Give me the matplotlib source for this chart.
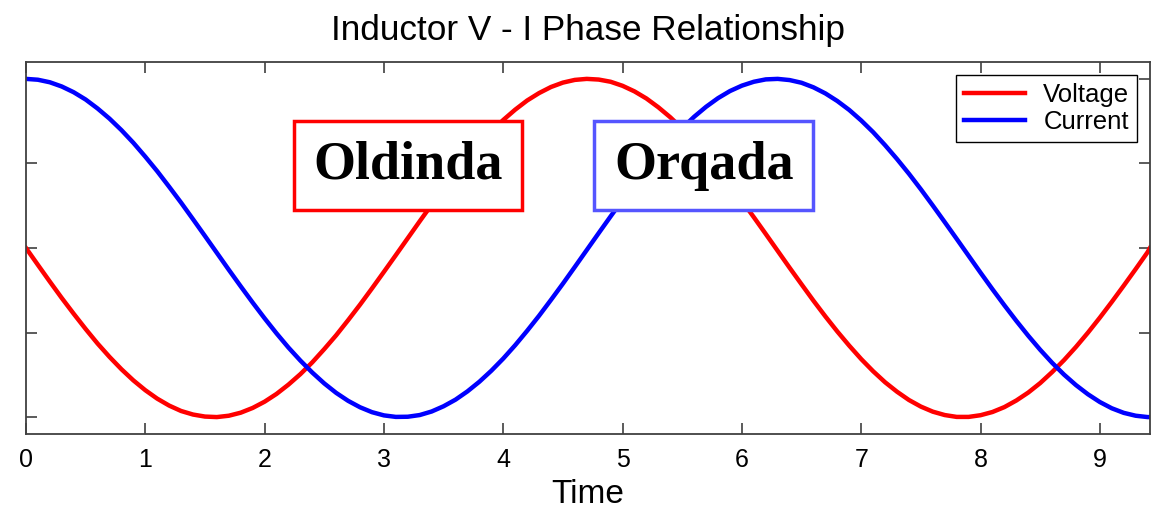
import matplotlib.pyplot as plt

plt.rcParams['font.family'] = ['Liberation Sans', 'DejaVu Sans']

# Values
time = [0.0, 0.1, 0.2, 0.3, 0.4, 0.5, 0.6, 0.7, 0.8, 0.9,
        1.0, 1.1, 1.2, 1.3, 1.4, 1.5, 1.6, 1.7, 1.8, 1.9,
        2.0, 2.1, 2.2, 2.3, 2.4, 2.5, 2.6, 2.7, 2.8, 2.9,
        3.0, 3.1, 3.2, 3.3, 3.4, 3.5, 3.6, 3.7, 3.8, 3.9,
        4.0, 4.1, 4.2, 4.3, 4.4, 4.5, 4.6, 4.7, 4.8, 4.9,
        5.0, 5.1, 5.2, 5.3, 5.4, 5.5, 5.6, 5.7, 5.8, 5.9,
        6.0, 6.1, 6.2, 6.3, 6.4, 6.5, 6.6, 6.7, 6.8, 6.9,
        7.0, 7.1, 7.2, 7.3, 7.4, 7.5, 7.6, 7.7, 7.8, 7.9,
        8.0, 8.1, 8.2, 8.3, 8.4, 8.5, 8.6, 8.7, 8.8, 8.9,
        9.0, 9.1, 9.2, 9.3, 9.4, 9.42]
voltage = [0.0, -0.1, -0.199, -0.296, -0.389, -0.479, -0.565, -0.644, -0.717, -0.783,
           -0.841, -0.891, -0.932, -0.964, -0.985, -0.997, -1.0, -0.992, -0.974, -0.946,
           -0.909, -0.863, -0.808, -0.746, -0.676, -0.598, -0.516, -0.427, -0.335, -0.239,
           -0.141, -0.042, 0.058, 0.158, 0.256, 0.351, 0.443, 0.53, 0.612, 0.688,
           0.757, 0.818, 0.872, 0.916, 0.952, 0.978, 0.994, 1.0, 0.996, 0.983,
           0.959, 0.926, 0.884, 0.832, 0.773, 0.706, 0.631, 0.551, 0.465, 0.374,
           0.279, 0.182, 0.083, -0.017, -0.117, -0.215, -0.312, -0.405, -0.494, -0.578,
           -0.657, -0.729, -0.794, -0.85, -0.899, -0.938, -0.968, -0.988, -0.999, -0.999,
           -0.989, -0.97, -0.941, -0.902, -0.855, -0.799, -0.734, -0.663, -0.585, -0.501,
           -0.412, -0.319, -0.223, -0.125, -0.025, 0.0]
current = [1.0, 0.995, 0.98, 0.955, 0.921, 0.878, 0.825, 0.765, 0.697, 0.622,
           0.54, 0.454, 0.362, 0.268, 0.17, 0.071, -0.029, -0.129, -0.227, -0.323,
           -0.416, -0.505, -0.589, -0.666, -0.737, -0.801, -0.857, -0.904, -0.942, -0.971,
           -0.99, -0.999, -0.998, -0.988, -0.967, -0.936, -0.897, -0.848, -0.791, -0.726,
           -0.654, -0.575, -0.49, -0.401, -0.307, -0.211, -0.112, -0.012, 0.088, 0.187,
           0.284, 0.378, 0.469, 0.554, 0.635, 0.709, 0.776, 0.835, 0.886, 0.928,
           0.96, 0.983, 0.997, 1.0, 0.993, 0.977, 0.95, 0.914, 0.869, 0.816,
           0.754, 0.685, 0.608, 0.526, 0.439, 0.347, 0.251, 0.153, 0.054, -0.046,
           -0.146, -0.244, -0.339, -0.431, -0.519, -0.602, -0.679, -0.749, -0.811, -0.865,
           -0.911, -0.948, -0.975, -0.992, -1.0, -1.0]
xticks = [0, 1, 2, 3, 4, 5, 6, 7, 8, 9]
yticks = [-1, -0.5, 0, 0.5, 1]

fig = plt.figure(figsize=(11.59, 5.08), dpi=100)
ax = fig.add_axes([0.0224, 0.1457, 0.9698, 0.7323])

ax.plot(time, voltage, color='#ff0000', linewidth=3.2, label='Voltage')
ax.plot(time, current, color='#0000ff', linewidth=3.2, label='Current')

ax.set_xlim(0, 9.42)
ax.set_ylim(-1.1, 1.1)
ax.set_xticks(xticks)
ax.set_yticks(yticks)
ax.set_yticklabels([])
ax.tick_params(direction='in', length=8, width=1.2, color='#404040',
               top=True, right=True, labelsize=18, pad=10)
for s in ax.spines.values():
    s.set_color('#404040')
    s.set_linewidth(1.3)

ax.set_title('Inductor V - I Phase Relationship', fontsize=25.3, pad=16)
ax.set_xlabel('Time', fontsize=24, labelpad=5)

leg = ax.legend(loc='upper right', fontsize=18.5, fancybox=False, framealpha=1,
                edgecolor='black', handlelength=2.4, borderaxespad=0.5,
                labelspacing=0.15, borderpad=0.3, handletextpad=0.7)
leg.get_frame().set_linewidth(1)

ax.text(3.2, 0.485, 'Oldinda', fontsize=39, fontweight='bold',
        family='Liberation Serif', ha='center', va='center',
        bbox=dict(boxstyle='square,pad=0.36', facecolor='white',
                  edgecolor='#ff0000', linewidth=2.5))
ax.text(5.68, 0.485, 'Orqada', fontsize=39, fontweight='bold',
        family='Liberation Serif', ha='center', va='center',
        bbox=dict(boxstyle='square,pad=0.36', facecolor='white',
                  edgecolor='#5555ff', linewidth=2.5))

fig.savefig('out.png', dpi=100)
